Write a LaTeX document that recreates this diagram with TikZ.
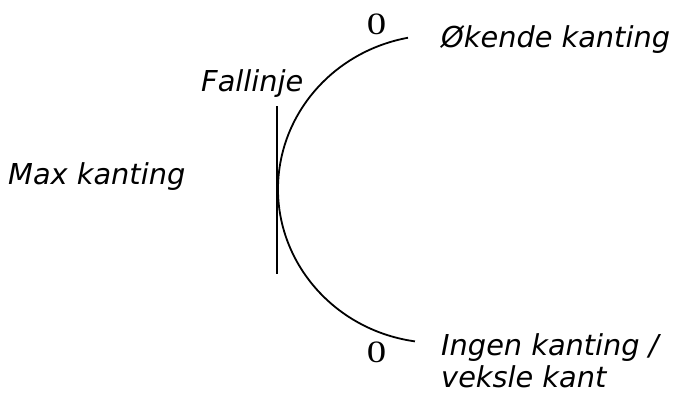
\documentclass[tikz,border=0pt]{standalone}
\usepackage{fontspec}
\setmainfont{Liberation Serif}
\newfontfamily\labelfont{DejaVu Sans}
\begin{document}
\begin{tikzpicture}[x=1pt,y=-1pt,
  lbl/.style={inner sep=0pt, anchor=base west, font=\labelfont\itshape\fontsize{28.8}{33}\selectfont},
  zero/.style={inner sep=0pt, anchor=base, font=\fontsize{31}{34}\selectfont},
  curve/.style={line width=1.8pt, black}]
\useasboundingbox (0,0) rectangle (676,392);
% fall line
\coordinate (ftop) at (277,106);
\coordinate (fbot) at (277,274);
\draw[curve] (ftop) -- (fbot);
% arc
\coordinate (c) at (438,189);
\draw[curve] ([shift={(98.3:160 and 154)}]c) arc[start angle=98.3, end angle=259.2, x radius=160, y radius=154];
% zeros
\node[zero] (z1) at (376.5,34) {\scalebox{1.25}[1]{0}};
\node[zero] (z2) at (376.5,362.5) {\scalebox{1.25}[1]{0}};
% labels
\node[lbl] (okende) at (441,47) {Økende kanting};
\node[lbl] (fall) at (201,91.5) {Fallinje};
\node[lbl] (max) at (8,184) {Max kanting};
\node[lbl] (ingen1) at (441,355) {Ingen kanting /};
\node[lbl] (ingen2) at (441,387.5) {veksle kant};
\end{tikzpicture}
\end{document}
